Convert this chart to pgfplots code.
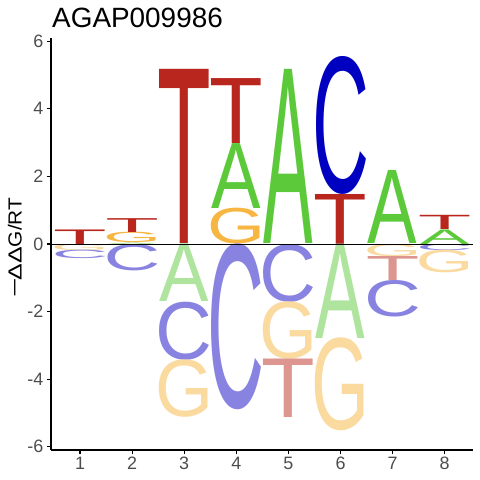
\documentclass[border=0pt]{standalone}
\usepackage{pgfplots}
\pgfplotsset{compat=1.18}
\usepackage{pgfplotstable}
\usepackage{graphicx}
\usepackage{fontspec}
\setmainfont{Liberation Sans}
\newfontfamily\logofont{Liberation Sans}

\definecolor{cT}{HTML}{B9261E}
\definecolor{cA}{HTML}{5CC93A}
\definecolor{cC}{HTML}{0000C0}
\definecolor{cG}{HTML}{F7B541}
\definecolor{lT}{HTML}{DC968F}
\definecolor{lA}{HTML}{AEE49D}
\definecolor{lC}{HTML}{8883E0}
\definecolor{lG}{HTML}{FADA9F}
\definecolor{tickgray}{HTML}{4D4D4D}

% letter box widths (compensating side bearings)
\def\wfA{49.5bp}
\def\wfT{53.6bp}
\def\wfC{56.9bp}
\def\wfG{58.0bp}

\newcommand\logoletter[3]{\textcolor{#2}{\resizebox*{\csname wf#1\endcsname}{#3bp}{\logofont #1}}}

\pgfplotstableread{
pos lo hi L c
1 0 0.43 T cT
1 -0.18 0 G lG
1 -0.43 -0.18 C lC
2 0 0.04 A cA
2 0.04 0.35 G cG
2 0.35 0.76 T cT
2 -0.78 0 C lC
3 0 5.15 T cT
3 -1.71 0 A lA
3 -3.43 -1.71 C lC
3 -5.13 -3.43 G lG
4 0 1.06 G cG
4 1.06 2.98 A cA
4 2.98 4.90 T cT
4 -4.91 0 C lC
5 0 5.15 A cA
5 -1.71 0 C lC
5 -3.41 -1.71 G lG
5 -5.14 -3.41 T lT
6 0 1.48 T cT
6 1.48 5.56 C cC
6 -2.79 0 A lA
6 -5.54 -2.79 G lG
7 0 2.16 A cA
7 -0.36 0 G lG
7 -1.07 -0.36 T lT
7 -2.15 -1.07 C lC
8 0 0.43 A cA
8 0.43 0.85 T cT
8 -0.18 0 C lC
8 -0.85 -0.18 G lG
}\logotab

\begin{document}
\begin{tikzpicture}
\begin{axis}[
  x=52.1bp, y=33.8bp,
  xmin=0.44, xmax=8.54, ymin=-6.09, ymax=6.09,
  axis lines=left,
  axis line style={-, line width=1.4bp, black},
  xtick={1,2,3,4,5,6,7,8},
  ytick={-6,-4,-2,0,2,4,6},
  yticklabels={-6,-4,-2,0,2,4,6},
  xticklabels={1,2,3,4,5,6,7,8},
  tick style={black, line width=1.1bp},
  tick align=outside,
  major tick length=4bp,
  ticklabel style={font=\fontsize{18}{18}\selectfont, text=tickgray},
  /pgf/number format/assume math mode=true,
  clip=false,
]
\pgfplotstablegetrowsof{\logotab}
\pgfmathtruncatemacro{\nrows}{\pgfplotsretval-1}
\pgfplotsforeachungrouped \i in {0,...,\nrows}{%
  \pgfplotstablegetelem{\i}{pos}\of\logotab \edef\P{\pgfplotsretval}%
  \pgfplotstablegetelem{\i}{lo}\of\logotab \edef\LO{\pgfplotsretval}%
  \pgfplotstablegetelem{\i}{hi}\of\logotab \edef\HI{\pgfplotsretval}%
  \pgfplotstablegetelem{\i}{L}\of\logotab \edef\LL{\pgfplotsretval}%
  \pgfplotstablegetelem{\i}{c}\of\logotab \edef\CC{\pgfplotsretval}%
  \pgfmathsetmacro\HH{(\HI-\LO)*33.8}%
  \edef\temp{\noexpand\node[anchor=south, inner sep=0pt, outer sep=0pt] at (axis cs:\P,\LO) {\noexpand\logoletter{\LL}{\CC}{\HH}};}%
  \temp
}
\addplot[black, line width=0.8bp, forget plot] coordinates {(0.44,0) (8.54,0)};
\node[anchor=base west, inner sep=0pt, font=\fontsize{28}{28}\selectfont] at (axis cs:0.4626,6.42) {AGAP009986};
\node[rotate=90, inner sep=0pt, font=\fontsize{19}{19}\selectfont] at (axis cs:-0.25,-0.1) {\scalebox{1.1}[1]{\scalebox{1.6}[1]{−}\kern-2.5bp\scalebox{1.2}[1]{ΔΔ}G/RT}};
\coordinate (bbll) at (axis cs:-0.5355,-6.982);
\coordinate (bbur) at (axis cs:8.6775,7.219);
\end{axis}
\pgfresetboundingbox
\path[use as bounding box] (bbll) rectangle (bbur);
\end{tikzpicture}
\end{document}
